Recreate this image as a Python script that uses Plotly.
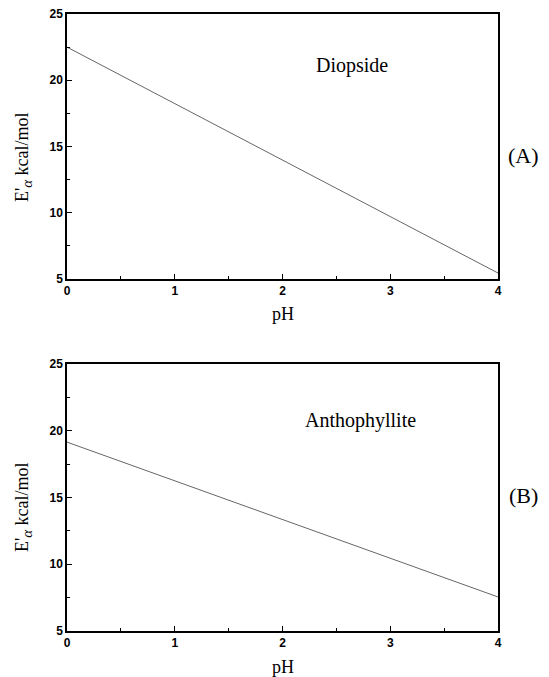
import plotly.graph_objects as go

ph = [0, 4]
diopside = [22.5, 5.45]
anthophyllite = [19.15, 7.55]
x_ticks = [0, 1, 2, 3, 4]
y_ticks = [5, 10, 15, 20, 25]

fig = go.Figure()
fig.add_trace(go.Scatter(x=ph, y=diopside, mode="lines", line=dict(color="#666", width=1),
                         xaxis="x", yaxis="y", showlegend=False))
fig.add_trace(go.Scatter(x=ph, y=anthophyllite, mode="lines", line=dict(color="#666", width=1),
                         xaxis="x2", yaxis="y2", showlegend=False))

W, H = 549, 677
xd = [67 / W, 498 / W]
top_d = [1 - 279 / H, 1 - 14 / H]
bot_d = [1 - 631 / H, 1 - 364 / H]

tickfont = dict(family="Liberation Sans", size=12, color="black", weight="bold")
common_x = dict(range=[0, 4], tickvals=x_ticks, ticks="inside", ticklen=5, tickwidth=1.2,
                tickcolor="black", showline=True, linecolor="black", linewidth=1.5, mirror=True,
                showgrid=False, zeroline=False, tickfont=tickfont,
                minor=dict(dtick=0.5, ticks="inside", ticklen=3, tickcolor="black", tickwidth=1))
common_y = dict(range=[5, 25], tickvals=y_ticks, ticks="inside", ticklen=5, tickwidth=1.2,
                tickcolor="black", showline=True, linecolor="black", linewidth=1.5, mirror=True,
                showgrid=False, zeroline=False, tickfont=tickfont,
                minor=dict(dtick=2.5, ticks="inside", ticklen=3, tickcolor="black", tickwidth=1))

fig.update_layout(
    width=W, height=H, template="none",
    margin=dict(l=0, r=0, t=0, b=0),
    paper_bgcolor="white", plot_bgcolor="white",
    xaxis=dict(domain=xd, anchor="y", **common_x),
    yaxis=dict(domain=top_d, anchor="x", **common_y),
    xaxis2=dict(domain=xd, anchor="y2", **common_x),
    yaxis2=dict(domain=bot_d, anchor="x2", **common_y),
)

serif = "Liberation Serif"
ann = []
def px(x): return x / W
def py(y): return 1 - y / H

def add(x, y, text, size, angle=0):
    ann.append(dict(x=px(x), y=py(y), xref="paper", yref="paper", showarrow=False,
                    xanchor="center", yanchor="middle", textangle=angle, text=text,
                    font=dict(family=serif, size=size, color="black")))

ytitle = "E'<sub><i><span style=\"font-size:15px\">α</span></i></sub> kcal/mol"
for yc, lab, ycap in [(157, "(A)", 155), (507, "(B)", 495)]:
    add(23, yc, ytitle, 18, -90)
    add(523, ycap, lab, 22)
for yc in [314, 667]:
    add(283, yc, "pH", 18)
add(352, 65, "Diopside", 20)
add(360, 420, "Anthophyllite", 20)
fig.update_layout(annotations=ann)

fig.write_html("out.html", config={"displayModeBar": False},
               post_script="document.body.style.margin='0';")
